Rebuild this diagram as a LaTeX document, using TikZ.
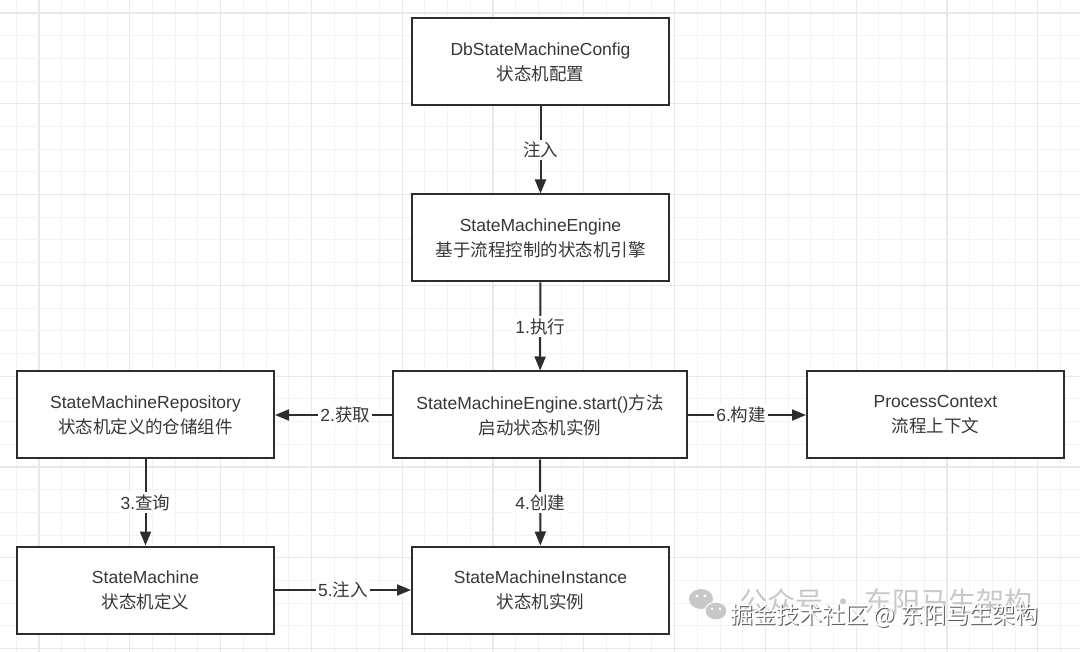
\documentclass[tikz,border=0pt]{standalone}
\usepackage{fontspec}
\setmainfont{Liberation Sans}
\newfontfamily\cjk{Noto Sans CJK SC}
\usetikzlibrary{positioning,arrows.meta}
\definecolor{smInk}{RGB}{45,45,45}
\definecolor{smText}{RGB}{55,55,55}
\definecolor{smGrid}{RGB}{243,243,243}
\definecolor{smGridMajor}{RGB}{232,232,232}
\definecolor{smMark}{RGB}{200,200,200}
\tikzset{
    base/.style={font=\fontsize{17.5}{25}\selectfont, align=center, text=smText},
    block/.style={base, rectangle, draw=smInk, line width=2pt, fill=white,
                  minimum width=257pt, minimum height=87pt, inner sep=0pt},
    flow/.style={-{Triangle[length=14pt,width=11pt]}, line width=2pt, color=smInk},
    edgetext/.style={base, fill=white, inner sep=2pt},
    gridminor/.style={smGrid, line width=1pt},
    gridmajor/.style={smGridMajor, line width=1.2pt}
}

\begin{document}
\begin{tikzpicture}[x=1pt, y=-1pt]
  % Paper with grid
  \useasboundingbox (0,0) rectangle (1080,652);
  \fill[white] (0,0) rectangle (1080,652);
  \foreach \i in {0,...,47} {
    \pgfmathtruncatemacro{\m}{mod(\i,4)}
    \ifnum\m=1 \draw[gridmajor] ({16.3+\i*22.7},0) -- ++(0,652);
    \else \draw[gridminor] ({16.3+\i*22.7},0) -- ++(0,652); \fi
  }
  \foreach \j in {0,...,28} {
    \pgfmathtruncatemacro{\m}{mod(\j,4)}
    \ifnum\m=0 \draw[gridmajor] (0,{13+\j*22.7}) -- ++(1080,0);
    \else \draw[gridminor] (0,{13+\j*22.7}) -- ++(1080,0); \fi
  }

  % Blocks
  \node[block] (config) at (540.5,62) {DbStateMachineConfig\\{\cjk 状态机配置}};
  \node[block] (engine) at (540.5,238) {StateMachineEngine\\{\cjk 基于流程控制的状态机引擎}};
  \node[block, minimum width=294pt] (start) at (540,415)
       {StateMachineEngine.start(){\cjk 方法}\\{\cjk 启动状态机实例}};
  \node[block] (repo) at (145.5,415) {StateMachineRepository\\{\cjk 状态机定义的仓储组件}};
  \node[block] (context) at (935.5,415) {ProcessContext\\{\cjk 流程上下文}};
  \node[block] (machine) at (145.5,590) {StateMachine\\{\cjk 状态机定义}};
  \node[block] (instance) at (540.5,590) {StateMachineInstance\\{\cjk 状态机实例}};

  % Connectors
  \draw[flow] (config) -- node[edgetext] {\cjk 注入} (engine);
  \draw[flow] (engine) -- node[edgetext] {1.{\cjk 执行}} (start);
  \draw[flow] (start) -- node[edgetext, pos=0.4] {2.{\cjk 获取}} (repo);
  \draw[flow] (start) -- node[edgetext, pos=0.45] {6.{\cjk 构建}} (context);
  \draw[flow] (repo) -- node[edgetext] {3.{\cjk 查询}} (machine);
  \draw[flow] (start) -- node[edgetext] {4.{\cjk 创建}} (instance);
  \draw[flow] (machine) -- node[edgetext] {5.{\cjk 注入}} (instance);

  % Watermarks
  \fill[smMark] (701,599) ellipse (12 and 10);
  \fill[smMark, draw=white, line width=1pt] (716,611) ellipse (11 and 9);
  \fill[white] (697,596) circle (1.6) (705,596) circle (1.6)
               (712,609) circle (1.3) (720,609) circle (1.3);
  \node[text=smMark, font=\cjk\fontsize{28}{30}\selectfont, anchor=west]
       (wxmark) at (736,602) {公众号 · 东阳马生架构};
  \node[text=smInk!80, font=\cjk\fontsize{23}{25}\selectfont, anchor=west]
       (jjshadow) at (728.2,617.2) {掘金技术社区 @ 东阳马生架构};
  \node[text=white, font=\cjk\fontsize{23}{25}\selectfont, anchor=west]
       (jjmark) at (727,616) {掘金技术社区 @ 东阳马生架构};
\end{tikzpicture}
\end{document}
